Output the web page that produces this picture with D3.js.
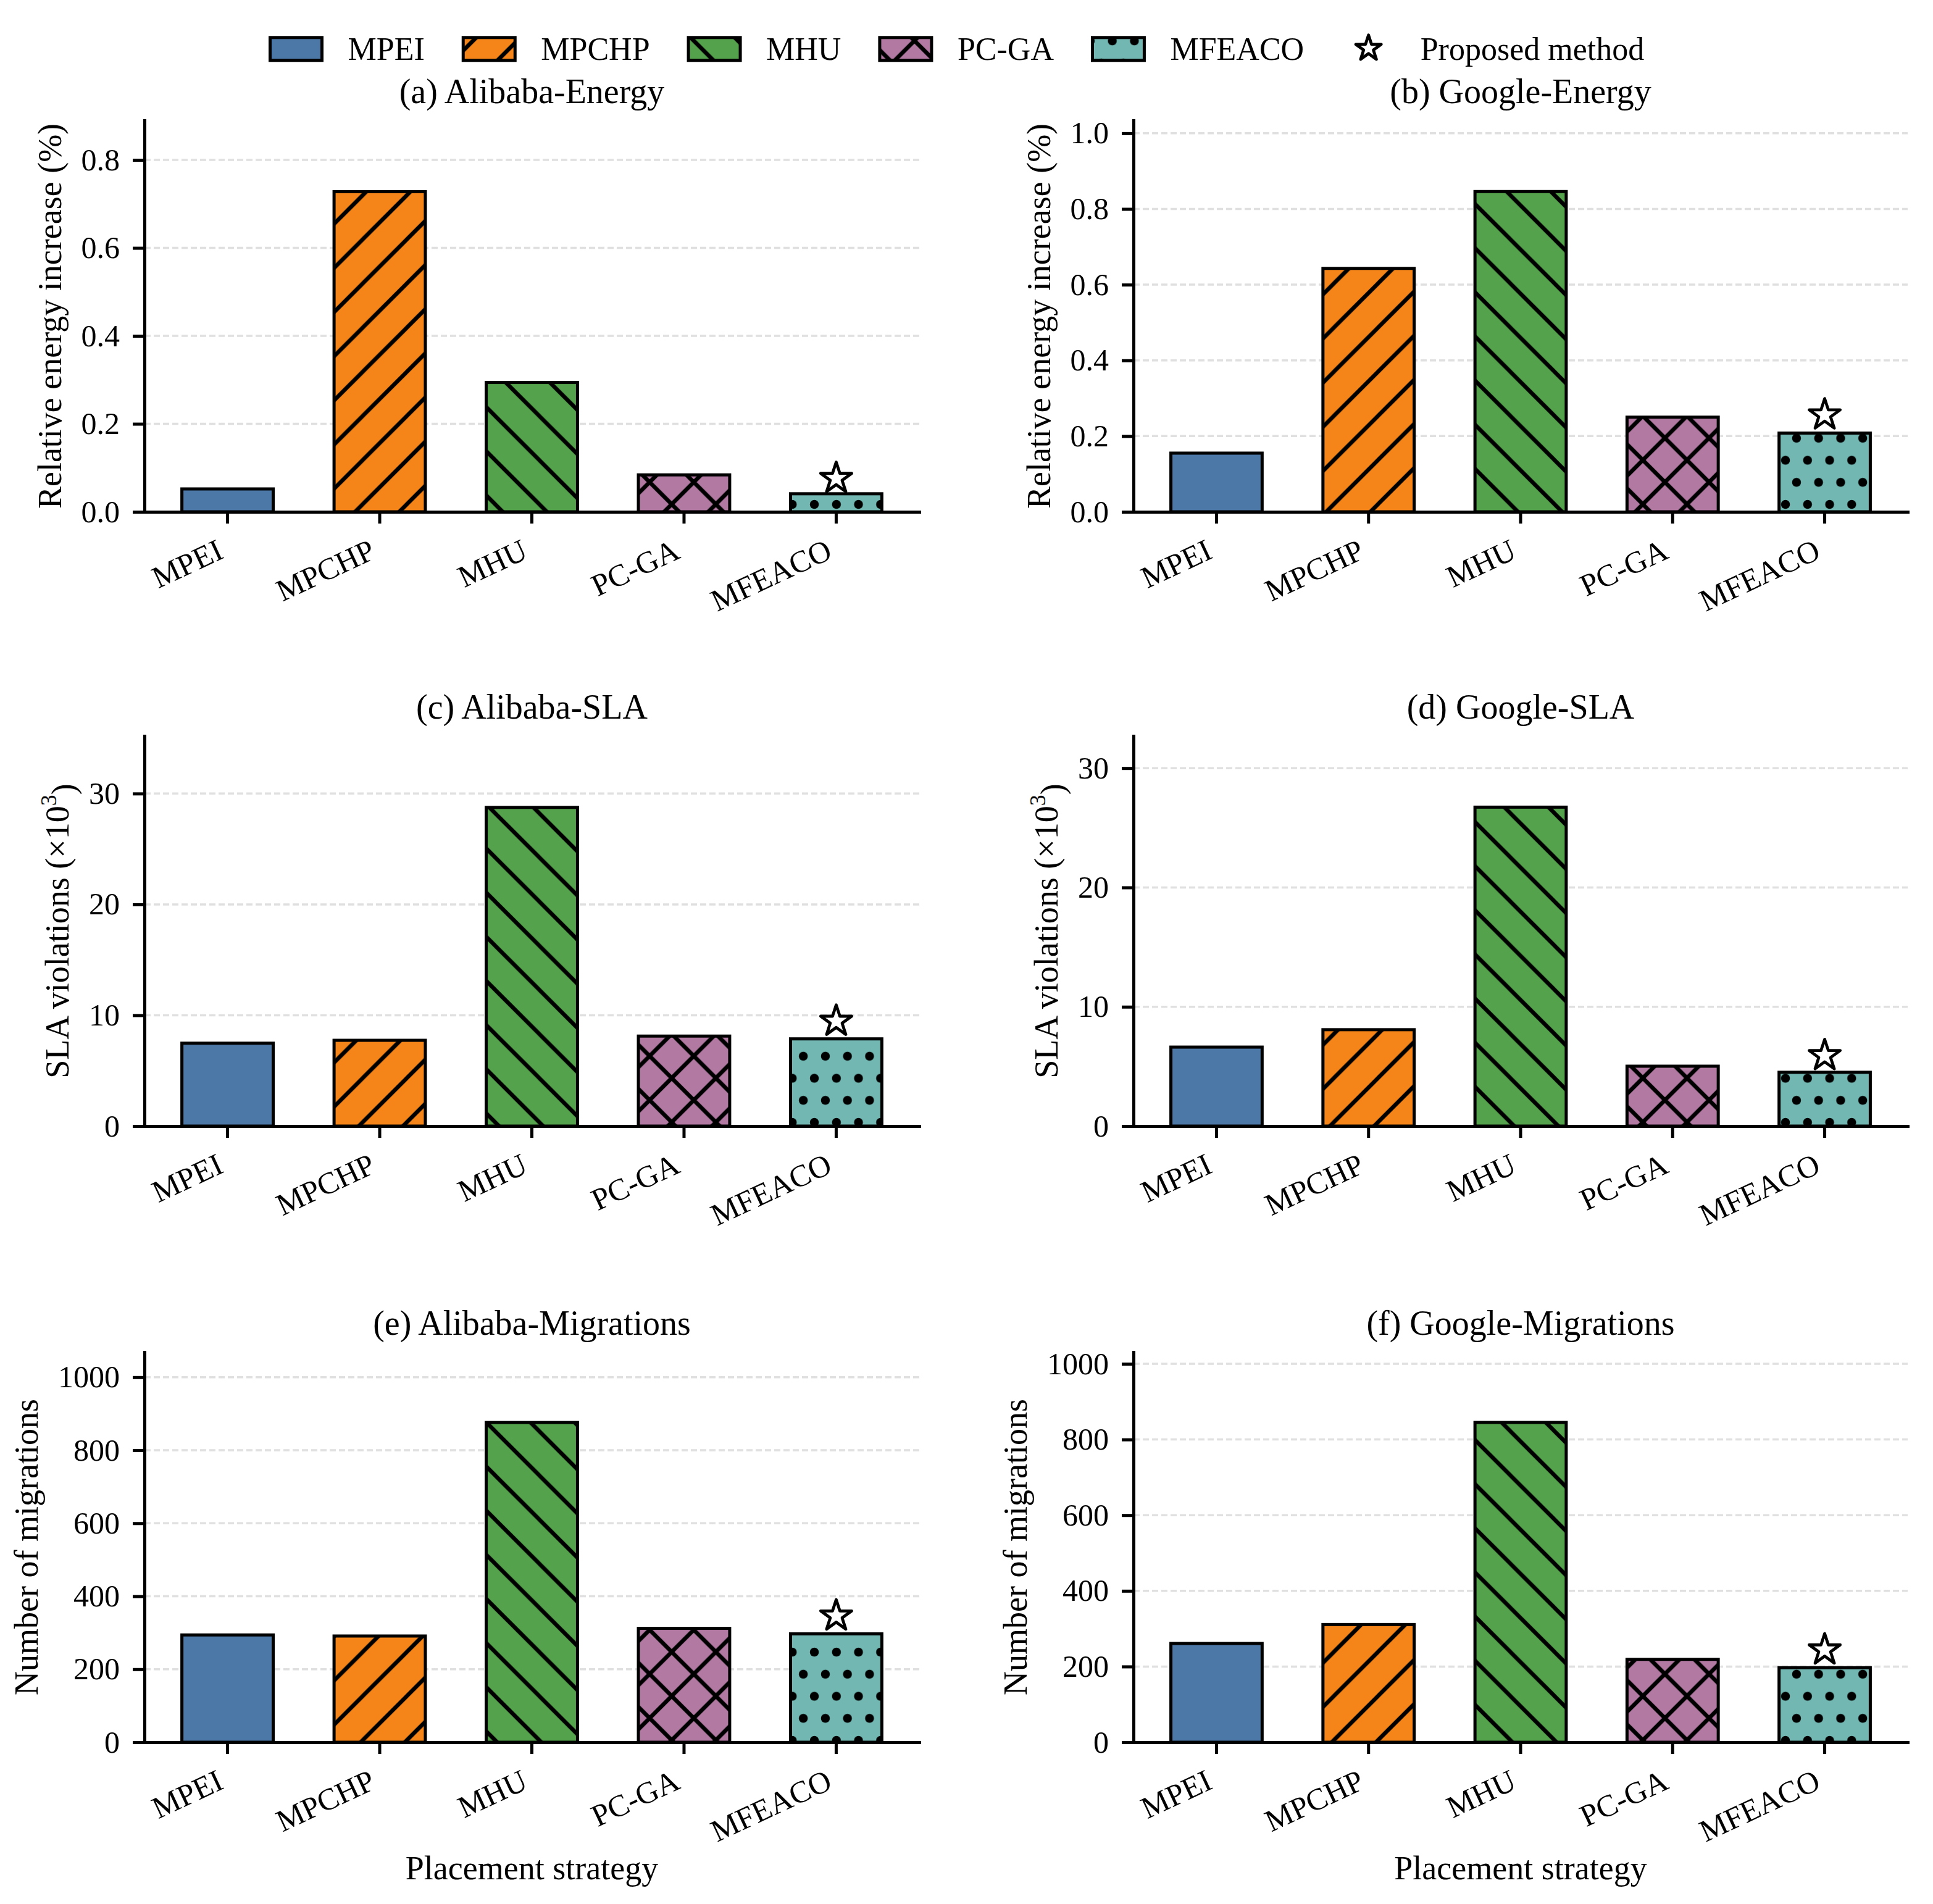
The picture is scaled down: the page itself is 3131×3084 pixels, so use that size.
<!DOCTYPE html>
<html>
<head>
<meta charset="utf-8">
<script src="https://cdn.jsdelivr.net/npm/d3@7"></script>
<style>
  body { margin: 0; background: #fff; }
  text { font-family: "Liberation Serif", "Times New Roman", serif; fill: #000; }
</style>
</head>
<body>
<div id="chart"></div>
<script>
// categories and values
const methods = ["MPEI", "MPCHP", "MHU", "PC-GA", "MFEACO"];
const alibabaEnergy = [0.052, 0.728, 0.294, 0.084, 0.041];
const googleEnergy = [0.155, 0.643, 0.846, 0.250, 0.208];
const alibabaSLA = [7.48, 7.74, 28.75, 8.12, 7.87];
const googleSLA = [6.62, 8.08, 26.73, 5.02, 4.51];
const alibabaMigrations = [294, 291, 876, 312, 297];
const googleMigrations = [261, 311, 845, 219, 197];
// star marker ("Proposed method") height per panel
const starValues = [0.076, 0.256, 9.46, 5.91, 346, 244];
const yMax = [0.89, 1.034, 35.2, 32.7, 1069, 1031];
const yTicks = [
    [0, 0.2, 0.4, 0.6, 0.8],
    [0, 0.2, 0.4, 0.6, 0.8, 1.0],
    [0, 10, 20, 30],
    [0, 10, 20, 30],
    [0, 200, 400, 600, 800, 1000],
    [0, 200, 400, 600, 800, 1000]
];
const titles = ["(a) Alibaba-Energy", "(b) Google-Energy", "(c) Alibaba-SLA",
    "(d) Google-SLA", "(e) Alibaba-Migrations", "(f) Google-Migrations"];
const yLabels = ["Relative energy increase (%)", "Relative energy increase (%)",
    "SLA", "SLA", "Number of migrations", "Number of migrations"];
const colors = ["#4C78A8", "#F58518", "#54A24B", "#B279A2", "#72B7B2"];

const width = 3131, height = 3084;

const svg = d3.select("#chart").append("svg")
    .attr("width", width)
    .attr("height", height)
    .attr("viewBox", [0, 0, width, height]);

svg.append("rect").attr("width", width).attr("height", height).attr("fill", "#fff");

// hatch patterns, kept in page coordinates so every panel shares one phase
const P = 71.5, h = P / 2;
const defs = svg.append("defs");
const fwd = `M${-h},${h}L${h},${-h}M0,${P}L${P},0M${h},${P + h}L${P + h},${h}`;
const back = `M0,0L${P},${P}M${-h},${h}L${h},${P + h}M${h},${-h}L${P + h},${h}`;

function linePattern(id, d) {
    defs.append("pattern")
        .attr("id", id)
        .attr("patternUnits", "userSpaceOnUse")
        .attr("x", 15.5).attr("y", 30.2)
        .attr("width", P).attr("height", P)
        .append("path")
        .attr("d", d)
        .attr("fill", "none")
        .attr("stroke", "#000")
        .attr("stroke-width", 6.5);
}
linePattern("hatch-fwd", fwd);
linePattern("hatch-back", back);
linePattern("hatch-cross", fwd + back);

const dots = defs.append("pattern")
    .attr("id", "hatch-dots")
    .attr("patternUnits", "userSpaceOnUse")
    .attr("x", 32.05).attr("y", 30.5)
    .attr("width", h).attr("height", P);
[[0, 0], [h, 0], [0, P], [h, P], [h / 2, h]].forEach(([cx, cy]) => {
    dots.append("circle").attr("cx", cx).attr("cy", cy).attr("r", 7.2).attr("fill", "#000");
});

const hatches = [null, "hatch-fwd", "hatch-back", "hatch-cross", "hatch-dots"];

const series = [alibabaEnergy, googleEnergy, alibabaSLA, googleSLA, alibabaMigrations, googleMigrations];
const colX = [[234, 1489], [1836, 3090]];
const rowY = [[195, 829], [1192, 1824], [2190, 2822]];

const star = d3.symbol().type(d3.symbolStar);

function drawBar(g, x, y, w, hgt, i) {
    g.append("rect").attr("x", x).attr("y", y).attr("width", w).attr("height", hgt)
        .attr("fill", colors[i]);
    if (hatches[i]) {
        g.append("rect").attr("x", x).attr("y", y).attr("width", w).attr("height", hgt)
            .attr("fill", `url(#${hatches[i]})`);
    }
    g.append("rect").attr("x", x).attr("y", y).attr("width", w).attr("height", hgt)
        .attr("fill", "none").attr("stroke", "#000").attr("stroke-width", 5);
}

series.forEach(function(values, p) {
    const [x0, x1] = colX[p % 2];
    const [y0, y1] = rowY[Math.floor(p / 2)];

    const x = d3.scaleBand()
        .domain(methods)
        .range([x0, x1])
        .paddingInner(0.4)
        .paddingOuter(0.246);

    const y = d3.scaleLinear()
        .domain([0, yMax[p]])
        .range([y1, y0]);

    const fmt = p < 2 ? d3.format(".1f") : d3.format("d");

    // dashed grid
    svg.append("g")
        .selectAll()
        .data(yTicks[p])
        .join("line")
        .attr("x1", x0).attr("x2", x1)
        .attr("y1", d => y(d)).attr("y2", d => y(d))
        .attr("stroke", "#e0e0e0")
        .attr("stroke-width", 3.5)
        .attr("stroke-dasharray", "10,5");

    // bars
    const bars = svg.append("g");
    values.forEach((v, i) => {
        drawBar(bars, x(methods[i]), y(v), x.bandwidth(), y(0) - y(v), i);
    });

    // star over the proposed method
    svg.append("path")
        .attr("d", star.size(26.4 * 26.4 / 0.8908130915292852)())
        .attr("transform", `translate(${x("MFEACO") + x.bandwidth() / 2},${y(starValues[p])})`)
        .attr("fill", "#fff")
        .attr("stroke", "#000")
        .attr("stroke-width", 4.8)
        .attr("stroke-linejoin", "round");

    // axes
    const yAxis = svg.append("g")
        .attr("transform", `translate(${x0},0)`)
        .attr("font-family", "Liberation Serif")
        .call(d3.axisLeft(y).tickValues(yTicks[p]).tickFormat(fmt)
            .tickSize(19).tickSizeOuter(0).tickPadding(21));
    yAxis.attr("font-family", "Liberation Serif");
    yAxis.select(".domain").attr("stroke-width", 5).attr("stroke-linecap", "square");
    yAxis.selectAll(".tick line").attr("stroke-width", 5);
    yAxis.selectAll(".tick text")
        .attr("font-size", 50)
        .attr("font-family", "Liberation Serif")
        .attr("fill", "#000");

    const xAxis = svg.append("g")
        .attr("transform", `translate(0,${y1})`)
        .call(d3.axisBottom(x).tickSize(19).tickSizeOuter(0));
    xAxis.attr("font-family", "Liberation Serif");
    xAxis.select(".domain").attr("stroke-width", 5).attr("stroke-linecap", "square");
    xAxis.selectAll(".tick line").attr("stroke-width", 5);
    xAxis.selectAll(".tick text")
        .attr("y", null).attr("dy", null)
        .attr("font-size", 50)
        .attr("font-family", "Liberation Serif")
        .attr("fill", "#000")
        .attr("text-anchor", "end")
        .attr("transform", "translate(-4,74) rotate(-25)");

    // y label
    let maxW = 0;
    yAxis.selectAll(".tick text").each(function() {
        maxW = Math.max(maxW, this.getComputedTextLength());
    });
    const lx = x0 - 19 - 21 - maxW - 33;
    const label = svg.append("text")
        .attr("transform", `translate(${lx},${(y0 + y1) / 2}) rotate(-90)`)
        .attr("text-anchor", "middle")
        .attr("font-size", 54);
    if (yLabels[p] === "SLA") {
        label.append("tspan").text("SLA violations (×10");
        label.append("tspan").attr("dy", "-0.55em").attr("font-size", 36).text("3");
        label.append("tspan").attr("dy", "0.55em").text(")");
    } else {
        label.text(yLabels[p]);
    }

    // title
    svg.append("text")
        .attr("x", (x0 + x1) / 2)
        .attr("y", y0 - 28.5)
        .attr("text-anchor", "middle")
        .attr("font-size", 56)
        .text(titles[p]);

    if (p >= 4) {
        svg.append("text")
            .attr("x", (x0 + x1) / 2)
            .attr("y", 3044)
            .attr("text-anchor", "middle")
            .attr("font-size", 54)
            .text("Placement strategy");
    }
});

// legend
const legend = svg.append("g");
let lx = 435;
methods.concat(["Proposed method"]).forEach(function(name, i) {
    if (i < methods.length) {
        drawBar(legend, lx + 2.5, 60.8, 84, 37, i);
    } else {
        legend.append("path")
            .attr("d", star.size(21.7 * 21.7 / 0.8908130915292852)())
            .attr("transform", `translate(${lx + 44.5},78.5)`)
            .attr("fill", "#fff")
            .attr("stroke", "#000")
            .attr("stroke-width", 4.8)
            .attr("stroke-linejoin", "round");
    }
    const t = legend.append("text")
        .attr("x", lx + 89 + 39.5)
        .attr("y", 96.7)
        .attr("font-size", 52)
        .text(name);
    lx += 89 + 39.5 + t.node().getComputedTextLength() + 60;
});
</script>
</body>
</html>
